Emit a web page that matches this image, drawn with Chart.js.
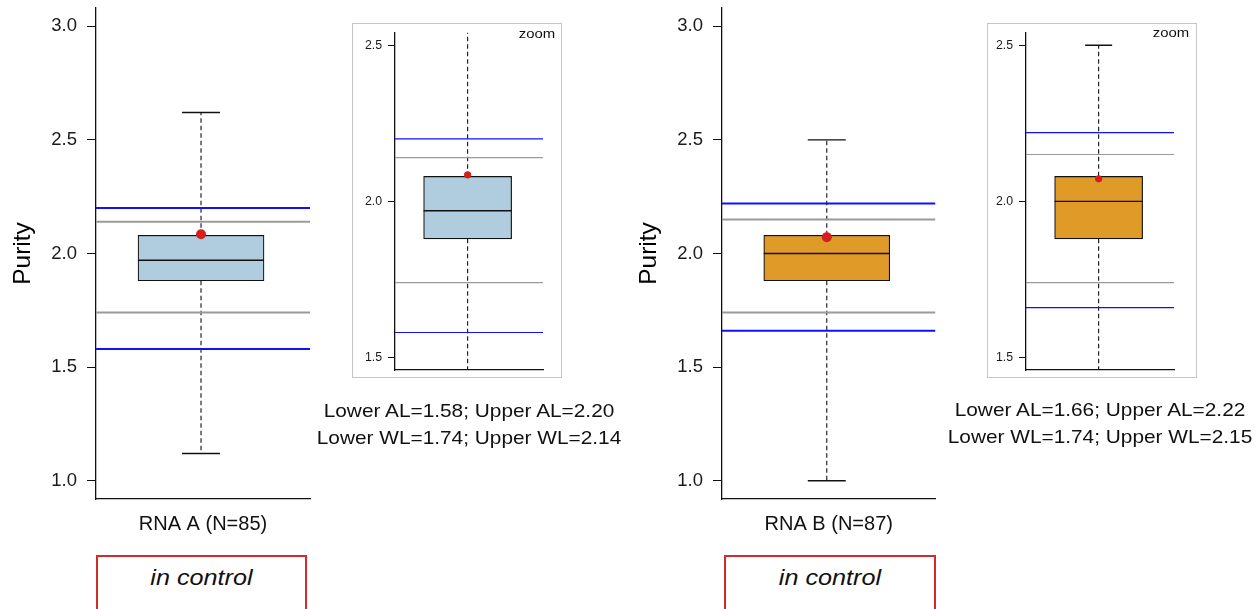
<!DOCTYPE html>
<html>
<head>
<meta charset="utf-8">
<script src="https://cdn.jsdelivr.net/npm/chart.js@4.4.1/dist/chart.umd.min.js"></script>
<style>
  html, body { margin: 0; padding: 0; background: #fff; overflow: hidden; width: 1259px; height: 609px; }
  #stage { position: relative; width: 1259px; height: 609px; overflow: hidden; font-family: "Liberation Sans", Arial, Helvetica, sans-serif; color: #111; }
  canvas { position: absolute; }
  .frame { position: absolute; border: 1.5px solid #c6c6c6; box-sizing: border-box; }
  .txt { position: absolute; width: 400px; text-align: center; white-space: nowrap; transform: scaleX(1.12); transform-origin: center; }
  .zoomlbl { position: absolute; width: 60px; text-align: center; font-size: 13.3px; line-height: 16px; transform: scaleX(1.12); }
  .status { position: absolute; border: 2px solid #d42a2a; box-sizing: border-box; height: 80px; }
  .status span { display: block; text-align: center; font-style: italic; font-size: 22.5px; line-height: 41px; transform: scaleX(1.12); }
</style>
</head>
<body>
<div id="stage">
  <div class="frame" style="left:352px;top:23px;width:210px;height:355px;"></div>
  <div class="frame" style="left:987px;top:23px;width:210px;height:355px;"></div>
  <canvas id="mainA" width="320" height="540" style="left:0px;top:0px;"></canvas>
  <canvas id="zoomA" width="210" height="355" style="left:352px;top:23px;"></canvas>
  <canvas id="mainB" width="320" height="540" style="left:626px;top:0px;"></canvas>
  <canvas id="zoomB" width="210" height="355" style="left:987px;top:23px;"></canvas>
  <div class="zoomlbl" id="zoomLblA" style="left:507px;top:25.5px;"></div>
  <div class="zoomlbl" id="zoomLblB" style="left:1140.5px;top:25.3px;"></div>
  <div class="txt" id="noteA" style="left:268.5px;top:397px;font-size:18.6px;line-height:27px;"></div>
  <div class="txt" id="noteB" style="left:900px;top:396px;font-size:18.6px;line-height:27px;"></div>
  <div class="status" id="statusA" style="left:96px;top:555px;width:211px;"><span></span></div>
  <div class="status" id="statusB" style="left:724px;top:555px;width:212px;"><span></span></div>
</div>
<script>
// ---------------- data ----------------
const categories  = ['RNA A (N=85)', 'RNA B (N=87)'];
const whiskerLow  = [1.12, 1.00];
const q1          = [1.88, 1.88];
const median      = [1.97, 2.00];
const q3          = [2.08, 2.08];
const whiskerHigh = [2.62, 2.50];
const means       = [2.085, 2.072];
const lowerAL     = [1.58, 1.66];
const upperAL     = [2.20, 2.22];
const lowerWL     = [1.74, 1.74];
const upperWL     = [2.14, 2.15];
const status      = ['in control', 'in control'];
const mainTicks   = [1.0, 1.5, 2.0, 2.5, 3.0];
const zoomTicks   = [1.5, 2.0, 2.5];
const yAxisTitle  = 'Purity';
const zoomLabel   = 'zoom';

// ---------------- styles ----------------
const boxColors = ['#afcddf', '#df9a28'];
const BLUE = '#1010ff', GRAY = '#9a9a9a', RED = '#d41f1f', INK = '#111111';
const FONT = "'Liberation Sans', Arial, Helvetica, sans-serif";
const BOX_POS = 1;               // the single box sits at x = 1
const X_MIN = 0.47, X_MAX = 1.55; // x range of each panel
Chart.defaults.font.family = FONT;

function buildChart(canvasId, i, cfg) {
  const hline = (v, color, w) => ({
    type: 'line', data: [{x: X_MIN, y: v}, {x: X_MAX, y: v}],
    borderColor: color, borderWidth: w, pointRadius: 0, fill: false, clip: 0, order: 2
  });
  const datasets = [
    { type: 'bar', data: [{x: BOX_POS, y: [q1[i], q3[i]]}], backgroundColor: boxColors[i],
      borderColor: INK, borderWidth: 1.2, borderSkipped: false, barThickness: cfg.boxW, clip: 0, order: 6 },
    { type: 'line', data: [{x: BOX_POS, y: q3[i]}, {x: BOX_POS, y: whiskerHigh[i]}], borderColor: INK,
      borderWidth: 1.1, borderDash: [4.5, 3], pointRadius: 0, fill: false, clip: 0, order: 5 },
    { type: 'line', data: [{x: BOX_POS, y: q1[i]}, {x: BOX_POS, y: whiskerLow[i]}], borderColor: INK,
      borderWidth: 1.1, borderDash: [4.5, 3], pointRadius: 0, fill: false, clip: 0, order: 5 },
    { type: 'scatter', data: [{x: BOX_POS, y: whiskerLow[i]}, {x: BOX_POS, y: whiskerHigh[i]}],
      pointStyle: 'line', pointRadius: cfg.capHalf, pointBorderWidth: 1.4, pointBorderColor: INK, clip: 0, order: 4 },
    { type: 'scatter', data: [{x: BOX_POS, y: median[i]}],
      pointStyle: 'line', pointRadius: cfg.boxW / 2, pointBorderWidth: 1.4, pointBorderColor: INK, clip: 0, order: 4 },
    hline(upperAL[i], BLUE, cfg.limW),
    hline(upperWL[i], GRAY, cfg.limW),
    hline(lowerWL[i], GRAY, cfg.limW),
    hline(lowerAL[i], BLUE, cfg.limW),
    { type: 'scatter', data: [{x: BOX_POS, y: means[i]}], pointStyle: 'circle', pointRadius: cfg.meanR,
      pointBackgroundColor: RED, pointBorderColor: RED, pointBorderWidth: 0, clip: 0, order: 1 }
  ];
  return new Chart(document.getElementById(canvasId), {
    type: 'bar',
    data: { datasets },
    options: {
      responsive: false, animation: false, devicePixelRatio: 1, events: [],
      layout: { autoPadding: false, padding: { left: 0, top: cfg.padTop, right: cfg.padRight, bottom: 0 } },
      plugins: { legend: { display: false }, tooltip: { enabled: false }, title: { display: false } },
      scales: {
        x: {
          type: 'linear', min: X_MIN, max: X_MAX, offset: false,
          ticks: { display: false }, grid: { display: false, drawTicks: false },
          border: { display: true, color: INK, width: 1.3 },
          title: cfg.xTitle ? { display: true, text: categories[i], color: '#111', font: { size: 20 }, padding: { top: 0, bottom: 3.5 } } : { display: false },
          afterFit: s => { s.height = cfg.xH; s.paddingLeft = 0; s.paddingRight = 0; }
        },
        y: {
          type: 'linear', min: cfg.yMin, max: cfg.yMax,
          afterBuildTicks: s => { s.ticks = cfg.ticks.map(v => ({ value: v })); },
          ticks: { callback: v => Number(v).toFixed(1), color: '#1a1a1a', font: { size: cfg.tickFont }, padding: cfg.tickPad, autoSkip: false, maxRotation: 0 },
          grid: { display: true, drawOnChartArea: false, drawTicks: true, tickLength: cfg.tickLen, tickColor: INK, tickWidth: 1 },
          border: { display: true, color: INK, width: 1.3 },
          title: cfg.yTitle ? { display: true, text: yAxisTitle, color: '#000', font: { size: 24.5 }, padding: { top: 8.5, bottom: 0 } } : { display: false },
          afterFit: s => { s.width = cfg.yW; s.paddingTop = 0; s.paddingBottom = 0; }
        }
      }
    }
  });
}

const mainCfg = { yMin: 0.92, yMax: 3.08, ticks: mainTicks, boxW: 126, capHalf: 19, meanR: 5, limW: 2,
  tickFont: 18.5, tickPad: 10, tickLen: 9, yW: 96, xH: 41, padTop: 8, xTitle: true, yTitle: true };
const zoomCfg = { yMin: 1.46, yMax: 2.54, ticks: zoomTicks, boxW: 88, capHalf: 13.5, meanR: 3.6, limW: 1.2,
  tickFont: 12.3, tickPad: 6, tickLen: 7, xH: 8, padTop: 9.7, xTitle: false, yTitle: false };

buildChart('mainA', 0, Object.assign({}, mainCfg, { padRight: 10 }));
buildChart('mainB', 1, Object.assign({}, mainCfg, { padRight: 10.5 }));
buildChart('zoomA', 0, Object.assign({}, zoomCfg, { yW: 43, padRight: 19 }));
buildChart('zoomB', 1, Object.assign({}, zoomCfg, { yW: 39, padRight: 23 }));

// ---------------- text annotations ----------------
['A', 'B'].forEach((k, i) => {
  document.getElementById('zoomLbl' + k).textContent = zoomLabel;
  document.getElementById('note' + k).innerHTML =
    'Lower AL=' + lowerAL[i].toFixed(2) + '; Upper AL=' + upperAL[i].toFixed(2) + '<br>' +
    'Lower WL=' + lowerWL[i].toFixed(2) + '; Upper WL=' + upperWL[i].toFixed(2);
  document.querySelector('#status' + k + ' span').textContent = status[i];
});
</script>
</body>
</html>
